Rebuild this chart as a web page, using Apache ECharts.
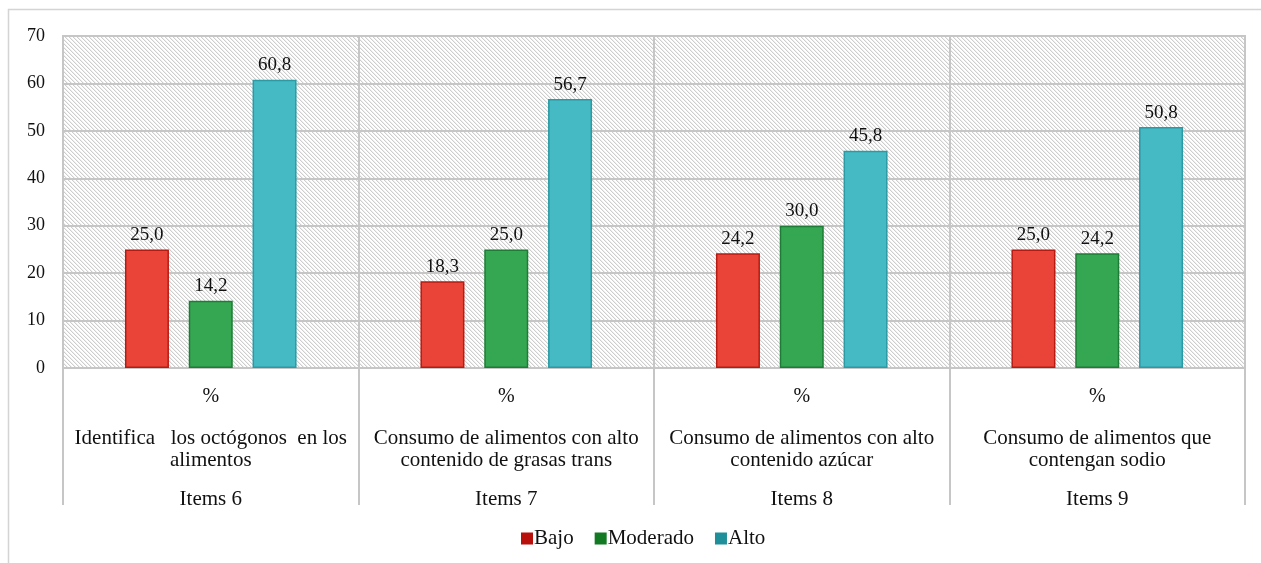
<!DOCTYPE html>
<html>
<head>
<meta charset="utf-8">
<script src="https://cdn.jsdelivr.net/npm/echarts@6/dist/echarts.min.js"></script>
<style>
  html, body { margin: 0; padding: 0; background: #fff; }
  #chart { width: 1261px; height: 563px; }
</style>
</head>
<body>
<div id="chart"></div>
<script>
// Category rows of the multi-level x axis
const itemLabels = ['Items 6', 'Items 7', 'Items 8', 'Items 9'];
const descriptions = [
  'Identifica   los octógonos  en los\nalimentos',
  'Consumo de alimentos con alto\ncontenido de grasas trans',
  'Consumo de alimentos con alto\ncontenido azúcar',
  'Consumo de alimentos que\ncontengan sodio'
];
const unitLabel = '%';

// Percentages per level
const seriesNames = ['Bajo', 'Moderado', 'Alto'];
const bajo = [25.0, 18.3, 24.2, 25.0];
const moderado = [14.2, 25.0, 30.0, 24.2];
const alto = [60.8, 56.7, 45.8, 50.8];

// Y axis scale
const yMin = 0, yMax = 70, yStep = 10;

const FONT = '"Liberation Serif", "Times New Roman", serif';
const GRID_LINE = '#c6c6c6';

// Diagonal hatch tile for the plot background
function hatchTile() {
  const n = 4;
  const c = document.createElement('canvas');
  c.width = n; c.height = n;
  const ctx = c.getContext('2d');
  ctx.fillStyle = '#ffffff';
  ctx.fillRect(0, 0, n, n);
  for (let i = 0; i < n; i++) {
    ctx.fillStyle = '#cdcdcd';
    ctx.fillRect(i, i, 1, 1);
    ctx.fillStyle = '#efefef';
    ctx.fillRect((i + 1) % n, i, 1, 1);
  }
  return c;
}

const fills = ['#e94437', '#35a752', '#45b9c4'];
const borders = ['#b81a12', '#1d7c35', '#2a9aa4'];
const legendFills = ['#b8110c', '#127a22', '#1f8f9a'];

const fmt = v => v.toFixed(1).replace('.', ',');

function barSeries(name, data, idx) {
  return {
    name: name,
    type: 'bar',
    data: data,
    barWidth: 44,
    barGap: '45%',
    itemStyle: { color: fills[idx], borderColor: borders[idx], borderWidth: 1.5 },
    label: {
      show: true,
      position: 'top',
      distance: 5,
      color: '#111',
      fontFamily: FONT,
      fontSize: 19,
      formatter: p => fmt(p.value)
    }
  };
}

const chart = echarts.init(document.getElementById('chart'), null, { renderer: 'canvas' });

const hiddenAxisParts = {
  axisLine: { show: false },
  axisTick: { show: false },
  splitLine: { show: false }
};

chart.setOption({
  backgroundColor: '#ffffff',
  animation: false,
  graphic: [{
    type: 'rect',
    silent: true,
    shape: { x: 8.5, y: 9.5, width: 1300, height: 600 },
    style: { fill: 'none', stroke: '#d4d4d4', lineWidth: 1.5 }
  }],
  grid: {
    left: 63, right: 16, top: 36, bottom: 195,
    show: true,
    backgroundColor: { image: hatchTile(), repeat: 'repeat' },
    borderColor: GRID_LINE,
    borderWidth: 2
  },
  legend: {
    data: seriesNames.map((n, i) => ({ name: n, itemStyle: { color: legendFills[i], borderColor: legendFills[i] } })),
    bottom: 14,
    left: 521,
    padding: 0,
    icon: 'rect',
    itemWidth: 10,
    itemHeight: 10,
    itemGap: 21,
    textStyle: { fontFamily: FONT, fontSize: 21, color: '#111', padding: [0, 0, 0, -3] }
  },
  xAxis: [
    {
      type: 'category',
      data: itemLabels,
      position: 'bottom',
      axisLine: { show: true, lineStyle: { color: GRID_LINE, width: 2 } },
      axisTick: { show: true, interval: 0, length: 137, lineStyle: { color: GRID_LINE, width: 2 } },
      splitLine: { show: true, interval: 0, lineStyle: { color: GRID_LINE, width: 2 } },
      axisLabel: {
        interval: 0, margin: 19,
        fontFamily: FONT, fontSize: 20, color: '#111', lineHeight: 20,
        formatter: () => unitLabel
      }
    },
    Object.assign({
      type: 'category',
      data: itemLabels,
      position: 'bottom',
      axisLabel: {
        interval: 0, margin: 59,
        fontFamily: FONT, fontSize: 21, color: '#111', lineHeight: 22,
        formatter: (v, i) => descriptions[i]
      }
    }, hiddenAxisParts),
    Object.assign({
      type: 'category',
      data: itemLabels,
      position: 'bottom',
      axisLabel: {
        interval: 0, margin: 120,
        fontFamily: FONT, fontSize: 21, color: '#111', lineHeight: 22
      }
    }, hiddenAxisParts)
  ],
  yAxis: {
    type: 'value',
    min: yMin, max: yMax, interval: yStep,
    axisLine: { show: true, lineStyle: { color: GRID_LINE, width: 2 } },
    axisTick: { show: false },
    splitLine: { show: true, lineStyle: { color: GRID_LINE, width: 2 } },
    axisLabel: { margin: 18, fontFamily: FONT, fontSize: 18, color: '#111' }
  },
  series: [
    barSeries(seriesNames[0], bajo, 0),
    barSeries(seriesNames[1], moderado, 1),
    barSeries(seriesNames[2], alto, 2)
  ]
});
</script>
</body>
</html>
